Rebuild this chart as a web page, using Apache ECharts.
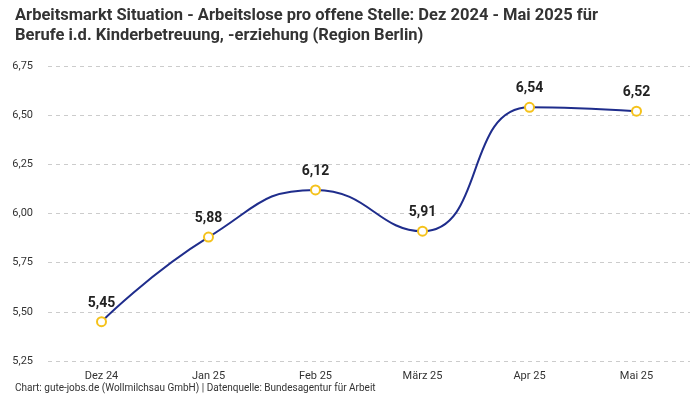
<!DOCTYPE html>
<html><head><meta charset="utf-8">
<script src="https://cdn.jsdelivr.net/npm/echarts@6/dist/echarts.min.js"></script>
<style>html,body{margin:0;padding:0;background:#fff}#c{width:700px;height:400px}</style>
</head><body><div id="c"></div>
<script>
const categories = ["Dez 24", "Jan 25", "Feb 25", "März 25", "Apr 25", "Mai 25"];
const values = [5.45, 5.88, 6.12, 5.91, 6.54, 6.52];
const titleText = "Arbeitsmarkt Situation - Arbeitslose pro offene Stelle: Dez 2024 - Mai 2025 für\nBerufe i.d. Kinderbetreuung, -erziehung (Region Berlin)";
const footerText = "Chart: gute-jobs.de (Wollmilchsau GmbH) | Datenquelle: Bundesagentur für Arbeit";
const fmt = v => v.toFixed(2).replace('.', ',');
const chart = echarts.init(document.getElementById('c'), null, {renderer: 'canvas'});
chart.setOption({
  animation: false,
  textStyle: {fontFamily: 'Roboto'},
  title: [{
    text: titleText, left: 10, top: 1,
    textStyle: {fontSize: 16.5, fontWeight: 'bold', color: '#333', lineHeight: 20, fontFamily: 'Roboto'}
  }, {
    text: footerText, left: 10, bottom: 2,
    textStyle: {fontSize: 10, fontWeight: 'normal', color: '#333', fontFamily: 'Roboto'}
  }],
  grid: {left: 48, right: 10, top: 66, bottom: 39, containLabel: false},
  xAxis: {
    type: 'category', data: categories, boundaryGap: true,
    axisLine: {show: false}, axisTick: {show: false},
    axisLabel: {color: '#333', fontSize: 11, margin: 10}
  },
  yAxis: {
    type: 'value', min: 5.25, max: 6.75, interval: 0.25,
    axisLabel: {formatter: v => fmt(v), color: '#333', fontSize: 11, margin: 15},
    splitLine: {lineStyle: {type: [4, 4], color: '#ccc'}}
  },
  series: [{
    type: 'line', data: values, smooth: true,
    lineStyle: {color: '#1f2d8c', width: 2},
    symbol: 'circle', symbolSize: 9,
    itemStyle: {color: '#fff', borderColor: '#f5c21b', borderWidth: 2},
    label: {show: true, position: 'top', distance: 6, formatter: p => fmt(p.value),
      fontSize: 14, fontWeight: 'bold', color: '#222'}
  }]
});
</script></body></html>
